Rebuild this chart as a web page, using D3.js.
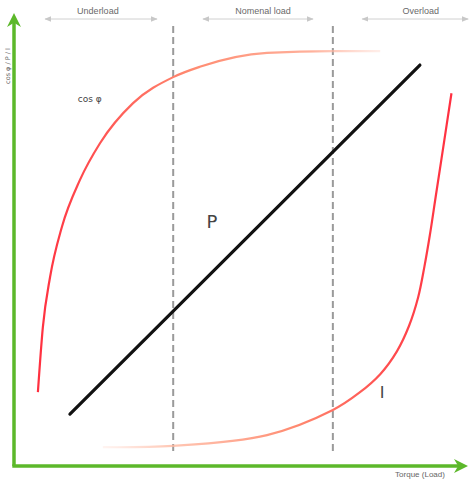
<!DOCTYPE html>
<html><head><meta charset="utf-8">
<script src="https://cdn.jsdelivr.net/npm/d3@7"></script>
<style>body{margin:0;background:#fff}svg{display:block}</style>
</head><body>
<script>
// Data (load %, value %)
const cosPhi = [[5.3,16.5],[6.4,31.0],[8.0,42.2],[10.6,53.3],[14.6,63.8],[19.1,72.1],[26.4,81.0],[35.3,86.8],[41.2,89.1],[56.1,92.2],[70.7,92.6],[81.2,92.6]];
const current = [[19.7,4.2],[35.3,4.5],[56.1,6.9],[70.7,12.5],[76.5,16.3],[81.2,20.5],[84.9,25.6],[87.6,31.3],[89.6,37.6],[91.0,44.5],[92.2,51.5],[93.5,60.1],[95.2,71.3],[97.0,83.2]];
const power = [[12.4,11.6],[90.0,89.5]];
const boundaries = [35.3, 70.7];
const regions = ["Underload","Nomenal load","Overload"];
const regionCenters = [18.6, 55.2, 90.2];
const regionSpans = [[6.9,31.7],[41.9,66.3],[77.2,100.7]];
const seriesLabels = [{t:"cos φ",x:16.8,y:81.3,size:9},{t:"P",x:43.9,y:53.1,size:18},{t:"I",x:81.6,y:15.2,size:16}];

const W=469,H=479;
const x=d3.scaleLinear().domain([0,100]).range([14,465]);
const y=d3.scaleLinear().domain([0,100]).range([466,18]);
const svg=d3.select("body").append("svg").attr("width",W).attr("height",H);
const defs=svg.append("defs");

function grad(id,stops,x1,x2){
  const g=defs.append("linearGradient").attr("id",id).attr("gradientUnits","userSpaceOnUse")
    .attr("x1",x1).attr("x2",x2).attr("y1",0).attr("y2",0);
  stops.forEach(s=>g.append("stop").attr("offset",s[0]).attr("stop-color",s[1]).attr("stop-opacity",s[2]));
}
grad("gCos",[[0,"#ff2f3f",1],[0.45,"#ff8a70",1],[0.8,"#ffa890",0.9],[1,"#ffc8b8",0.3]],x(5),x(81.2));
grad("gI",[[0,"#ffc8b8",0.2],[0.2,"#ffb8a0",0.8],[0.55,"#ff8a70",1],[0.8,"#ff5050",1],[1,"#ff2f40",1]],x(19.7),x(97.1));

defs.append("marker").attr("id","ga").attr("viewBox","0 0 10 10").attr("refX",5).attr("refY",5)
  .attr("markerWidth",4).attr("markerHeight",4).attr("orient","auto-start-reverse").attr("markerUnits","strokeWidth")
  .append("path").attr("d","M0,0L10,5L0,10L3,5Z").attr("fill","#5cb82a");
defs.append("marker").attr("id","sa").attr("viewBox","0 0 10 10").attr("refX",9).attr("refY",5)
  .attr("markerWidth",7).attr("markerHeight",7).attr("orient","auto-start-reverse").attr("markerUnits","userSpaceOnUse")
  .append("path").attr("d","M0,1L10,5L0,9Z").attr("fill","#c8c8c8");

// dashed boundaries
svg.selectAll("line.b").data(boundaries).enter().append("line")
  .attr("x1",d=>x(d)).attr("x2",d=>x(d)).attr("y1",26).attr("y2",455)
  .attr("stroke","#9a9a9a").attr("stroke-width",2).attr("stroke-dasharray","7,4");

// region arrows
svg.selectAll("line.r").data(regionSpans).enter().append("line")
  .attr("x1",d=>x(d[0])).attr("x2",d=>x(d[1])).attr("y1",19).attr("y2",19)
  .attr("stroke","#d0d0d0").attr("stroke-width",1)
  .attr("marker-start","url(#sa)").attr("marker-end","url(#sa)");
svg.selectAll("text.r").data(regions).enter().append("text")
  .attr("x",(d,i)=>x(regionCenters[i])).attr("y",14).attr("text-anchor","middle")
  .attr("font-family","Liberation Sans, Arial, sans-serif").attr("font-size",9).attr("fill","#6a6a6a").text(d=>d);

const line=d3.line().x(d=>x(d[0])).y(d=>y(d[1]));
svg.append("path").datum(cosPhi).attr("d",line.curve(d3.curveMonotoneX)).attr("fill","none")
  .attr("stroke","url(#gCos)").attr("stroke-width",2.2);
svg.append("path").datum(current).attr("d",line.curve(d3.curveCatmullRom.alpha(0.5))).attr("fill","none")
  .attr("stroke","url(#gI)").attr("stroke-width",2.2);
svg.append("path").datum(power).attr("d",line.curve(d3.curveLinear)).attr("fill","none")
  .attr("stroke","#111").attr("stroke-width",3.2).attr("stroke-linecap","round");

// series labels
svg.selectAll("text.s").data(seriesLabels).enter().append("text")
  .attr("x",d=>x(d.x)).attr("y",d=>y(d.y)).attr("text-anchor","middle")
  .attr("font-family","DejaVu Sans, sans-serif").attr("font-size",d=>d.size)
  .attr("fill","#444").text(d=>d.t);

// axes
svg.append("line").attr("x1",x(0)).attr("y1",y(0)).attr("x2",x(0)).attr("y2",y(100)+2)
  .attr("stroke","#5cb82a").attr("stroke-width",3.5).attr("marker-end","url(#ga)");
svg.append("line").attr("x1",x(0)-1.7).attr("y1",y(0)).attr("x2",x(100)-4).attr("y2",y(0))
  .attr("stroke","#5cb82a").attr("stroke-width",3.5).attr("marker-end","url(#ga)");

svg.append("text").attr("transform",`translate(10,${66}) rotate(-90)`).attr("text-anchor","middle")
  .attr("font-family","DejaVu Sans, sans-serif").attr("font-size",6.5).attr("fill","#666").text("cos φ / P / I");
svg.append("text").attr("x",420).attr("y",477).attr("text-anchor","middle")
  .attr("font-family","Liberation Sans, Arial, sans-serif").attr("font-size",8).attr("fill","#666").text("Torque (Load)");
</script>
</body></html>
